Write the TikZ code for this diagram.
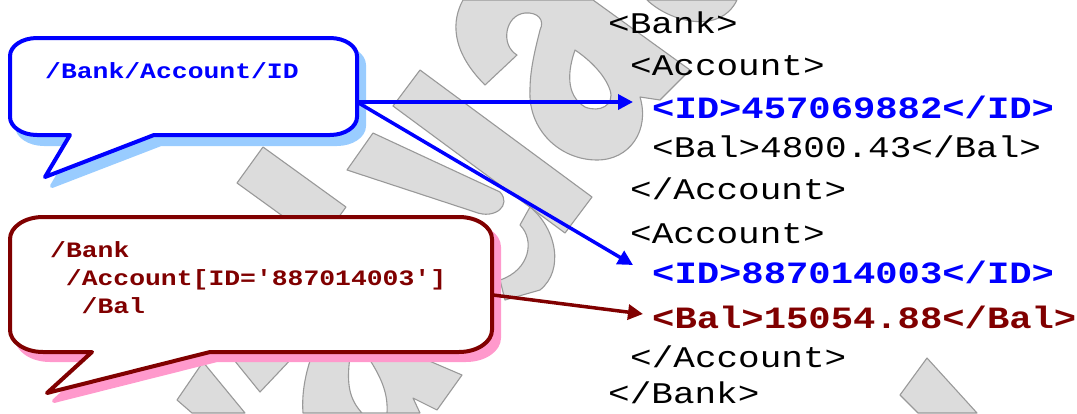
\documentclass[tikz,border=0pt]{standalone}
\usepackage{fontspec}
\usetikzlibrary{arrows.meta}
\newfontfamily\xmlfont[FakeStretch=1.2]{Liberation Mono}
\definecolor{xblue}{HTML}{0000FF}
\definecolor{xred}{HTML}{800000}
\definecolor{blueshade}{HTML}{99CCFF}
\definecolor{redshade}{HTML}{FF99CC}
\definecolor{wmfill}{HTML}{DCDCDC}
\definecolor{wmline}{HTML}{999999}

\tikzset{
  wmshape/.style={fill=wmfill, draw=wmline, line width=1.1pt, line join=round},
  xmltext/.style={anchor=base west, inner sep=0pt, text=black,
    font=\xmlfont\fontsize{30}{30}\selectfont},
  xmlblue/.style={xmltext, text=xblue, font=\xmlfont\bfseries\fontsize{31}{31}\selectfont},
  xmlred/.style={xmltext, text=xred, font=\xmlfont\bfseries\fontsize{31}{31}\selectfont},
  querytext/.style={anchor=base west, inner sep=0pt,
    font=\xmlfont\bfseries\fontsize{22}{22}\selectfont},
  bubble/.style={line width=4pt, line join=round},
  bluearrow/.style={draw=xblue, line width=3.5pt, -{Triangle[length=15pt,width=15pt]}},
  redarrow/.style={draw=xred, line width=3.5pt, -{Triangle[length=15pt,width=15pt]}},
  % outline of the upper (blue) callout
  bluebubble/.style={insert path={
    (154,135) -- (45,177) -- (70,135) -- (37,135)
    .. controls (22.1,135) and (10,126.9) .. (10,117) -- (10,56)
    .. controls (10,46.1) and (22.1,38) .. (37,38) -- (330,38)
    .. controls (344.9,38) and (357,46.1) .. (357,56) -- (357,117)
    .. controls (357,126.9) and (344.9,135) .. (330,135) -- cycle}},
  % outline of the lower (red) callout
  redbubble/.style={insert path={
    (210,352) -- (47,393) -- (92,352) -- (43,352)
    .. controls (24.8,352) and (10,342.1) .. (10,330) -- (10,239)
    .. controls (10,226.9) and (24.8,217) .. (43,217) -- (459,217)
    .. controls (477.2,217) and (492,226.9) .. (492,239) -- (492,330)
    .. controls (492,342.1) and (477.2,352) .. (459,352) -- cycle}}
}

\begin{document}
\begin{tikzpicture}[x=1pt,y=-1pt]
\useasboundingbox (0,0) rectangle (1077,413);

% ---- background watermark ----
\path[wmshape, even odd rule]
  (463,0) .. controls (452,20) and (450,50) .. (485,85) -- (517,55)
  .. controls (500,45) and (505,15) .. (525,13)
  .. controls (538,12) and (545,20) .. (540,30)
  .. controls (535,50) and (530,70) .. (530,90)
  .. controls (528,130) and (560,160) .. (597,160)
  .. controls (630,160) and (650,130) .. (640,97)
  -- (660,100) -- (690,70) -- (593,0) -- cycle
  (575,50) .. controls (568,70) and (565,95) .. (585,107)
  .. controls (600,113) and (615,105) .. (610,90)
  .. controls (605,75) and (590,60) .. (575,50) -- cycle;
\path[wmshape] (647,0) .. controls (670,22) and (720,35) .. (737,0) -- cycle;
\path[wmshape] (420,70) -- (393,106) -- (565,233) -- (592,197) -- cycle;
\path[wmshape] (373,133) -- (347,170) -- (475,212)
  .. controls (495,220) and (512,205) .. (500,192) -- cycle;
\path[wmshape] (263,147) -- (237,183) -- (320,243) -- (346,207) -- cycle;
\path[wmshape] (530,207) .. controls (556,228) and (565,270) .. (540,290)
  -- (505,300) -- (500,280) .. controls (530,270) and (535,240) .. (520,225) -- cycle;
\path[wmshape] (203,362) -- (177,400) -- (192,413) -- (245,413) -- cycle;
\path[wmshape] (230,355) -- (260,392) -- (295,355) -- cycle;
\path[wmshape, even odd rule]
  (312,355) .. controls (303,380) and (302,400) .. (303,413) -- (420,413)
  -- (413,398) -- (437,410) -- (462,375) -- (420,357) -- cycle
  (350,357) .. controls (346,385) and (350,400) .. (362,413) -- (387,413)
  .. controls (388,395) and (383,380) .. (368,357) -- cycle;
\path[wmshape] (927,358) -- (900,395) -- (918,413) -- (977,413) -- cycle;

% ---- callouts with their shadows ----
\path[bubble, fill=blueshade, draw=blueshade, shift={(7,9)}, bluebubble];
\path[bubble, fill=white, draw=xblue, bluebubble];
\path[bubble, fill=redshade, draw=redshade, shift={(7,8)}, redbubble];
\path[bubble, fill=white, draw=xred, redbubble];

\node[querytext, text=xblue] (qa) at (45,78) {/Bank/Account/ID};
\node[querytext, text=xred] (qb1) at (50,257) {/Bank};
\node[querytext, text=xred] (qb2) at (65.75,285) {/Account[ID='887014003']};
\node[querytext, text=xred] (qb3) at (81.5,313) {/Bal};

% ---- XML document ----
\node[xmltext] (bankopen)  at (608,33)  {<Bank>};
\node[xmltext] (acc1open)  at (630,75)  {<Account>};
\node[xmlblue] (id1)       at (652,118) {<ID>457069882</ID>};
\node[xmltext] (bal1)      at (652,157) {<Bal>4800.43</Bal>};
\node[xmltext] (acc1close) at (630,199) {</Account>};
\node[xmltext] (acc2open)  at (630,243) {<Account>};
\node[xmlblue] (id2)       at (652,283) {<ID>887014003</ID>};
\node[xmlred]  (bal2)      at (652,328) {<Bal>15054.88</Bal>};
\node[xmltext] (acc2close) at (630,367) {</Account>};
\node[xmltext] (bankclose) at (608,403) {</Bank>};

% ---- arrows from the queries to the selected elements ----
\coordinate (blueout) at (357,102);
\coordinate (redout) at (493,295);
\draw[bluearrow] (blueout) -- ([xshift=-19pt,yshift=16pt]id1.base west);
\draw[bluearrow] (blueout) -- ([xshift=-19pt,yshift=18pt]id2.base west);
\draw[redarrow] (redout) -- ([xshift=-9pt,yshift=14pt]bal2.base west);
\end{tikzpicture}
\end{document}
